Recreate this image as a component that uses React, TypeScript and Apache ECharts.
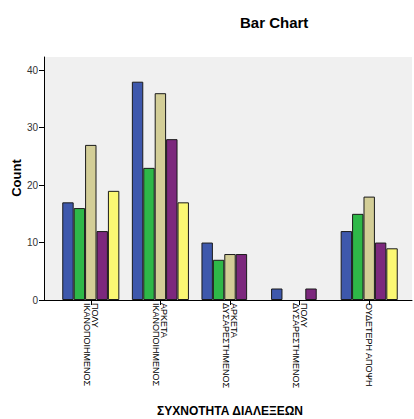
import React, { useEffect, useRef } from "react";
import * as echarts from "echarts";

const categories = [
  "ΠΟΛΥ\nΙΚΑΝΟΠΟΙΗΜΕΝΟΣ",
  "ΑΡΚΕΤΑ\nΙΚΑΝΟΠΟΙΗΜΕΝΟΣ",
  "ΑΡΚΕΤΑ\nΔΥΣΑΡΕΣΤΗΜΕΝΟΣ",
  "ΠΟΛΥ\nΔΥΣΑΡΕΣΤΗΜΕΝΟΣ",
  "ΟΥΔΕΤΕΡΗ ΑΠΟΨΗ",
];
const seriesNames = ["Ομάδα 1", "Ομάδα 2", "Ομάδα 3", "Ομάδα 4", "Ομάδα 5"];
const group1 = [17, 38, 10, 2, 12];
const group2 = [16, 23, 7, null, 15];
const group3 = [27, 36, 8, null, 18];
const group4 = [12, 28, 8, 2, 10];
const group5 = [19, 17, null, null, 9];
const seriesValues = [group1, group2, group3, group4, group5];
const colors = ["#3E58AC", "#2EB848", "#D3CE97", "#7C287D", "#FBF873"];
const yTicks = [0, 10, 20, 30, 40];

const FONT = "'Liberation Sans', Arial, sans-serif";

export default function App() {
  const ref = useRef<HTMLDivElement>(null);
  useEffect(() => {
    if (!ref.current) return;
    const chart = echarts.init(ref.current, null, { renderer: "svg" });
    const yMax = 42.3;
    chart.setOption({
      animation: false,
      textStyle: { fontFamily: FONT },
      title: {
        text: "Bar Chart",
        left: 235,
        top: 10,
        textStyle: { fontSize: 15, fontWeight: "bold", color: "#000", fontFamily: FONT },
      },
      grid: [
        { left: 44, right: 2, top: 57, bottom: 119, show: true, backgroundColor: "#F0F0F0", borderWidth: 0 },
        { left: 56, right: 10, top: 57, bottom: 119, show: false },
      ],
      xAxis: [
        {
          gridIndex: 0,
          type: "value",
          min: 0,
          max: 1,
          axisLine: { show: true, onZero: false, lineStyle: { color: "#000", width: 1 } },
          axisTick: { show: false },
          axisLabel: { show: false },
          splitLine: { show: false },
        },
        {
          gridIndex: 1,
          type: "category",
          data: categories,
          axisLine: { show: false },
          axisTick: { show: true, alignWithLabel: true, interval: 0, length: 5, lineStyle: { color: "#000" } },
          axisLabel: {
            interval: 0,
            rotate: -90,
            margin: 3,
            fontSize: 9,
            lineHeight: 8,
            color: "#000",
            fontFamily: FONT,
          },
          splitLine: { show: false },
        },
      ],
      yAxis: [
        {
          gridIndex: 0,
          type: "value",
          min: 0,
          max: yMax,
          interval: 10,
          axisLine: { show: true, lineStyle: { color: "#000", width: 1 } },
          axisTick: { show: true, length: 5, customValues: yTicks, lineStyle: { color: "#000" } },
          axisLabel: { customValues: yTicks, fontSize: 10, margin: 6, color: "#333", fontFamily: FONT },
          splitLine: { show: false },
        },
        {
          gridIndex: 1,
          type: "value",
          min: 0,
          max: yMax,
          show: false,
          splitLine: { show: false },
        },
      ],
      series: seriesValues.map((vals, i) => ({
        name: seriesNames[i],
        type: "bar",
        xAxisIndex: 1,
        yAxisIndex: 1,
        data: vals.map((v) => (v === null ? "-" : v)),
        barGap: "0%",
        barCategoryGap: "18%",
        itemStyle: { color: colors[i], borderColor: "#1a1a1a", borderWidth: 1 },
      })),
      graphic: [
        {
          type: "text",
          x: 16,
          y: 178,
          rotation: Math.PI / 2,
          style: {
            text: "Count",
            fontSize: 13,
            fontWeight: "bold",
            fontFamily: FONT,
            fill: "#000",
            align: "center",
            verticalAlign: "middle",
          },
        },
        {
          type: "text",
          x: 230,
          y: 411,
          style: {
            text: "ΣΥΧΝΟΤΗΤΑ ΔΙΑΛΕΞΕΩΝ",
            fontSize: 12,
            fontWeight: "bold",
            fontFamily: FONT,
            fill: "#000",
            align: "center",
            verticalAlign: "middle",
          },
        },
      ],
    });
    return () => chart.dispose();
  }, []);
  return <div ref={ref} style={{ width: 414, height: 419, position: "absolute", left: 0, top: 0 }} />;
}
